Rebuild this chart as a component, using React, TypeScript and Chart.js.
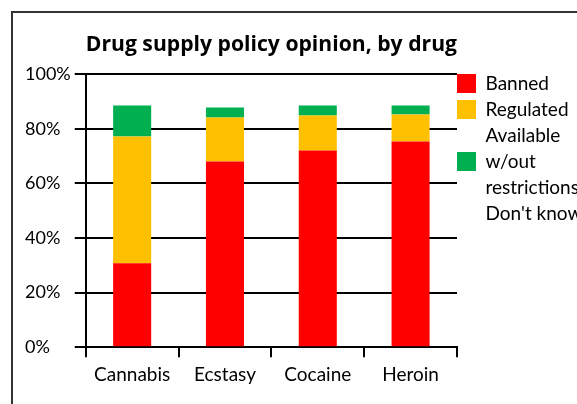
import React, { useEffect, useRef } from 'react';
import { Chart, registerables } from 'chart.js';

Chart.register(...registerables);

const categories = ['Cannabis', 'Ecstasy', 'Cocaine', 'Heroin'];
const seriesLabels = ['Banned', 'Regulated', 'Available w/out restrictions', "Don't know"];
const seriesColors = ['#FF0000', '#FFC000', '#00B050', 'rgba(0,0,0,0)'];
const banned = [30.7, 68.0, 72.0, 75.3];
const regulated = [46.4, 16.1, 12.8, 9.9];
const available = [11.4, 3.7, 3.7, 3.3];
const dontKnow = [11.5, 12.2, 11.5, 11.5];
const yTicks = [0, 20, 40, 60, 80, 100];
const titleText = 'Drug supply policy opinion, by drug';

const seriesValues = [banned, regulated, available, dontKnow];

function wrapLabel(label: string): string[] {
  return label.length > 12 ? label.split(' ') : [label];
}

export default function App() {
  const ref = useRef<HTMLCanvasElement>(null);

  useEffect(() => {
    if (!ref.current) return;
    const font = 'Lato';
    const chart = new Chart(ref.current, {
      type: 'bar',
      data: {
        labels: categories,
        datasets: seriesLabels.map((label, i) => ({
          label,
          data: seriesValues[i],
          backgroundColor: seriesColors[i],
          borderWidth: 0,
          categoryPercentage: 0.82,
          barPercentage: 0.5,
        })),
      },
      options: {
        responsive: false,
        animation: false,
        devicePixelRatio: 1,
        layout: { padding: { left: 25, right: 62, top: 0, bottom: 12 } },
        plugins: {
          tooltip: { enabled: false },
          title: {
            display: true,
            text: titleText,
            color: '#000',
            fullSize: false,
            align: 'center',
            font: { family: 'Open Sans', size: 21.3, weight: 'bold', lineHeight: 1.2 },
            padding: { top: 32, bottom: 16.5 },
          },
          legend: {
            display: true,
            position: 'right',
            align: 'start',
            fullSize: true,
            maxWidth: 121,
            title: {
              display: true,
              text: ' ',
              font: { family: font, size: 12, lineHeight: '14px' },
              padding: { top: 60, bottom: 0 },
            },
            labels: {
              boxWidth: 19,
              boxHeight: 19,
              padding: 0,
              color: '#000',
              font: { family: font, size: 19, lineHeight: '26px' },
              generateLabels: (ch: any) => {
                const items: any[] = [];
                ch.data.datasets.forEach((ds: any, i: number) => {
                  const lines = wrapLabel(ds.label);
                  const mid = Math.floor((lines.length - 1) / 2);
                  lines.forEach((line, j) => {
                    items.push({
                      text: [line],
                      fillStyle: j === mid ? ds.backgroundColor : 'rgba(0,0,0,0)',
                      strokeStyle: 'rgba(0,0,0,0)',
                      lineWidth: 0,
                      hidden: false,
                      datasetIndex: i,
                      fontColor: '#000',
                    });
                  });
                });
                return items;
              },
            },
          },
        },
        scales: {
          x: {
            stacked: true,
            offset: true,
            grid: {
              offset: true,
              drawOnChartArea: false,
              drawTicks: true,
              tickLength: 10,
              color: '#000',
              lineWidth: 2,
            },
            border: { display: true, color: '#000', width: 2 },
            ticks: {
              color: '#000',
              padding: 6,
              maxRotation: 0,
              font: { family: font, size: 19, lineHeight: 1.2 },
            },
          },
          y: {
            stacked: true,
            min: yTicks[0],
            max: yTicks[yTicks.length - 1],
            afterBuildTicks: (scale: any) => {
              scale.ticks = yTicks.map((v) => ({ value: v }));
            },
            grid: {
              color: '#000',
              lineWidth: 2,
              drawTicks: true,
              tickLength: 11,
            },
            border: { display: true, color: '#000', width: 2 },
            ticks: {
              color: '#000',
              padding: 2,
              crossAlign: 'far',
              font: { family: font, size: 18, lineHeight: 1.2 },
              callback: (v: any) => `${v}%`,
            },
          },
        },
      },
    } as any);
    return () => chart.destroy();
  }, []);

  return (
    <div
      style={{
        position: 'fixed',
        left: 0,
        top: 0,
        width: 577,
        height: 404,
        overflow: 'hidden',
        background: '#fff',
      }}
    >
      <div
        style={{
          position: 'absolute',
          left: 11,
          top: 11,
          width: 640,
          height: 440,
          border: '2px solid #333',
          boxSizing: 'border-box',
        }}
      />
      <canvas
        ref={ref}
        width={640}
        height={404}
        style={{ position: 'absolute', left: 0, top: 0, width: 640, height: 404 }}
      />
    </div>
  );
}
